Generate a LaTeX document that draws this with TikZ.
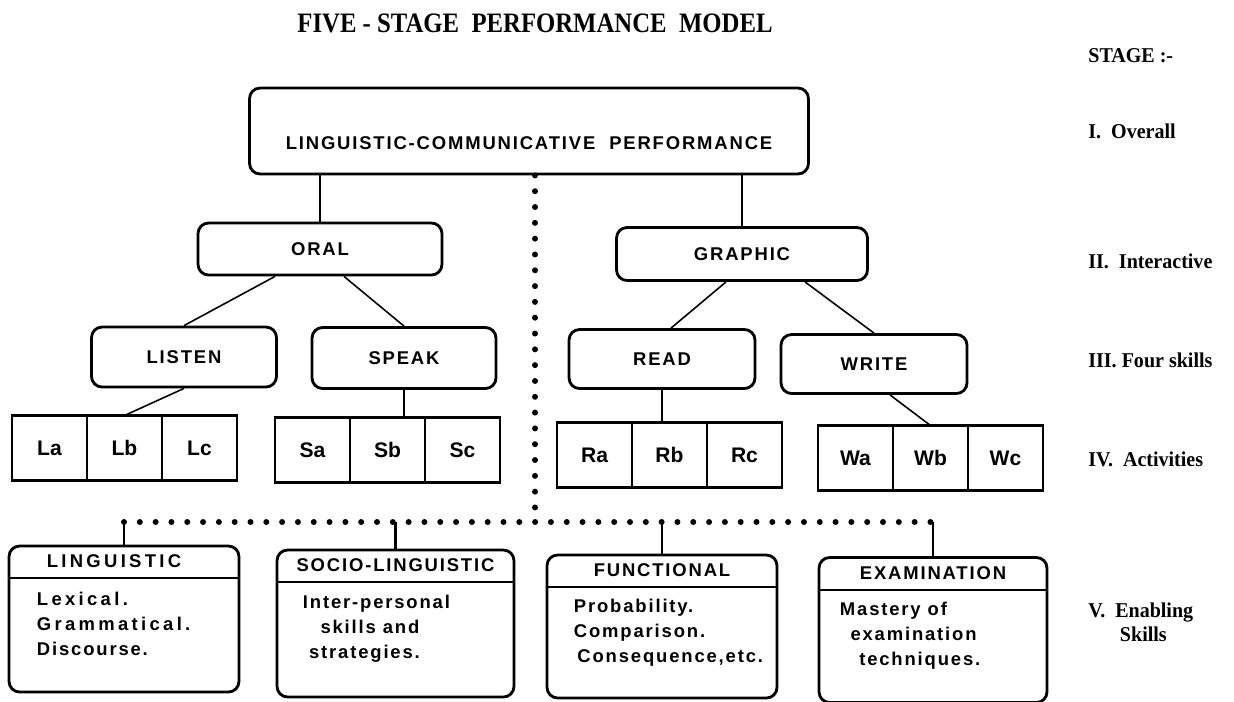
\documentclass[tikz,border=0pt]{standalone}
\usepackage{fontspec}
\setmainfont{Liberation Sans}
\newfontfamily\boxfont[LetterSpace=10]{Liberation Sans}
\newfontfamily\spacedfont[LetterSpace=18]{Liberation Sans}
\newfontfamily\titlefont[FakeStretch=0.88]{Liberation Serif}
\newfontfamily\stagefont[FakeStretch=0.95]{Liberation Serif}
\usepackage{tikz}
\usetikzlibrary{positioning}

\tikzset{
  unitbox/.style={draw, line width=1.6pt, rounded corners=6pt, inner sep=2pt,
    font=\boxfont\bfseries\fontsize{10.5}{13}\selectfont},
  cellbox/.style={draw, line width=0.8pt, minimum width=1.5cm, minimum height=1.3cm,
    inner sep=0pt, outer sep=0pt, font=\bfseries\fontsize{12}{14}\selectfont},
  cellframe/.style={line width=1.6pt},
  skillbox/.style={draw, line width=1.6pt, rounded corners=6pt, minimum width=4.6cm},
  skillhead/.style={inner sep=0pt, minimum height=0.66cm,
    font=\boxfont\bfseries\fontsize{10.5}{13}\selectfont},
  skilltext/.style={inner sep=0pt, align=left,
    font=\boxfont\bfseries\fontsize{10.5}{14.2}\selectfont},
  divider/.style={line width=1.2pt},
  link/.style={line width=0.9pt},
  drop/.style={line width=1.6pt},
  dotline/.style={line width=3.4pt, line cap=round, dash pattern=on 0pt off 9pt},
  stagelabel/.style={anchor=west, inner sep=0pt,
    font=\stagefont\bfseries\fontsize{12}{13.6}\selectfont}
}

\begin{document}
\begin{tikzpicture}[x=0.02cm, y=-0.02cm]
  \useasboundingbox (0,0) rectangle (1234,701);

  % title and stage column
  \node[font=\titlefont\bfseries\fontsize{16}{18}\selectfont] (title) at (535,23)
    {FIVE - STAGE\ \ PERFORMANCE\ \ MODEL};
  \node[stagelabel] (stage) at (1088,56) {STAGE :-};
  \node[stagelabel] (stage1) at (1088,131) {I.\ \ Overall};
  \node[stagelabel] (stage2) at (1088,261) {II.\ \ Interactive};
  \node[stagelabel] (stage3) at (1088,360) {III. Four skills};
  \node[stagelabel] (stage4) at (1088,459) {IV.\ \ Activities};
  \node[stagelabel, align=left] (stage5) at (1088,622)
    {V.\ \ Enabling\\\hspace*{18pt}Skills};

  % stages I-III
  \node[unitbox, minimum width=11.18cm, minimum height=1.72cm,
    text height=21.6pt, text depth=0pt] (lcp) at (529,131)
    {LINGUISTIC-COMMUNICATIVE\ \ PERFORMANCE};
  \node[unitbox, minimum width=4.88cm, minimum height=1.04cm] (oral) at (320,249) {ORAL};
  \node[unitbox, minimum width=5.02cm, minimum height=1.06cm] (graphic) at (742,254) {GRAPHIC};
  \node[unitbox, minimum width=3.7cm, minimum height=1.2cm] (listen) at (184,357) {LISTEN};
  \node[unitbox, minimum width=3.68cm, minimum height=1.22cm] (speak) at (404,358) {SPEAK};
  \node[unitbox, minimum width=3.72cm, minimum height=1.18cm] (read) at (662,359) {READ};
  \node[unitbox, minimum width=3.72cm, minimum height=1.18cm] (write) at (874,364) {WRITE};

  % stage IV
  \node[cellbox] (La) at (49.5,448) {La};
  \node[cellbox, right=0pt of La] (Lb) {Lb};
  \node[cellbox, right=0pt of Lb] (Lc) {Lc};
  \draw[cellframe] (La.north west) rectangle (Lc.south east);

  \node[cellbox] (Sa) at (312.5,450) {Sa};
  \node[cellbox, right=0pt of Sa] (Sb) {Sb};
  \node[cellbox, right=0pt of Sb] (Sc) {Sc};
  \draw[cellframe] (Sa.north west) rectangle (Sc.south east);

  \node[cellbox] (Ra) at (594.5,455) {Ra};
  \node[cellbox, right=0pt of Ra] (Rb) {Rb};
  \node[cellbox, right=0pt of Rb] (Rc) {Rc};
  \draw[cellframe] (Ra.north west) rectangle (Rc.south east);

  \node[cellbox] (Wa) at (855.5,458) {Wa};
  \node[cellbox, right=0pt of Wa] (Wb) {Wb};
  \node[cellbox, right=0pt of Wb] (Wc) {Wc};
  \draw[cellframe] (Wa.north west) rectangle (Wc.south east);

  % stage V
  \node[skillbox, minimum height=2.92cm] (ling) at (124,619) {};
  \node[skillhead, below=0pt of ling.north, xshift=-0.2cm,
    font=\spacedfont\bfseries\fontsize{10.5}{13}\selectfont] (linghead) {LINGUISTIC};
  \draw[divider] (ling.west |- linghead.south) -- (ling.east |- linghead.south);
  \node[skilltext, below right=0.94cm and 0.58cm of ling.north west] (lingbody)
    {{\spacedfont Lexical.}\\{\spacedfont Grammatical.}\\Discourse.};

  \node[skillbox, minimum width=4.74cm, minimum height=2.94cm] (socio) at (395.5,623.5) {};
  \node[skillhead, below=0pt of socio.north] (sociohead) {SOCIO-LINGUISTIC};
  \draw[divider] (socio.west |- sociohead.south) -- (socio.east |- sociohead.south);
  \node[skilltext, below right=0.92cm and 0.54cm of socio.north west] (sociobody)
    {Inter-personal\\\hspace*{10pt}skills and\\\hspace*{3.5pt}strategies.};

  \node[skillbox, minimum height=2.86cm] (func) at (662,626.5) {};
  \node[skillhead, below=0pt of func.north] (funchead) {FUNCTIONAL};
  \draw[divider] (func.west |- funchead.south) -- (func.east |- funchead.south);
  \node[skilltext, below right=0.9cm and 0.56cm of func.north west] (funcbody)
    {Probability.\\Comparison.\\\hspace*{2pt}Consequence,etc.};

  \node[skillbox, minimum width=4.56cm, minimum height=2.9cm] (exam) at (933,630) {};
  \node[skillhead, below=0pt of exam.north] (examhead) {EXAMINATION};
  \draw[divider] (exam.west |- examhead.south) -- (exam.east |- examhead.south);
  \node[skilltext, below right=0.92cm and 0.44cm of exam.north west] (exambody)
    {Mastery of\\\hspace*{6pt}examination\\\hspace*{11pt}techniques.};

  % connectors
  \draw[link] (oral.north) -- (oral.north |- lcp.south);
  \draw[link] (graphic.north) -- (graphic.north |- lcp.south);
  \draw[link] ([xshift=-0.9cm]oral.south) -- (listen.north);
  \draw[link] ([xshift=0.48cm]oral.south) -- (speak.north);
  \draw[link] ([xshift=-0.32cm]graphic.south) -- ([xshift=0.18cm]read.north);
  \draw[link] ([xshift=1.26cm]graphic.south) -- (write.north);
  \draw[link] (listen.south) -- (Lb.north);
  \draw[link] (speak.south) -- (speak.south |- Sb.north);
  \draw[link] (read.south) -- (read.south |- Rb.north);
  \draw[link] ([xshift=0.32cm]write.south) -- (Wb.north);

  % dotted link to the enabling skills
  \coordinate (hub) at (535,522);
  \draw[dotline] (lcp.south -| hub) -- (hub);
  \draw[dotline] (ling.north |- hub) -- (exam.north |- hub);
  \draw[drop] (ling.north) -- (ling.north |- hub);
  \draw[drop] (socio.north) -- (socio.north |- hub);
  \draw[drop] (func.north) -- (func.north |- hub);
  \draw[drop] (exam.north) -- (exam.north |- hub);
\end{tikzpicture}
\end{document}
